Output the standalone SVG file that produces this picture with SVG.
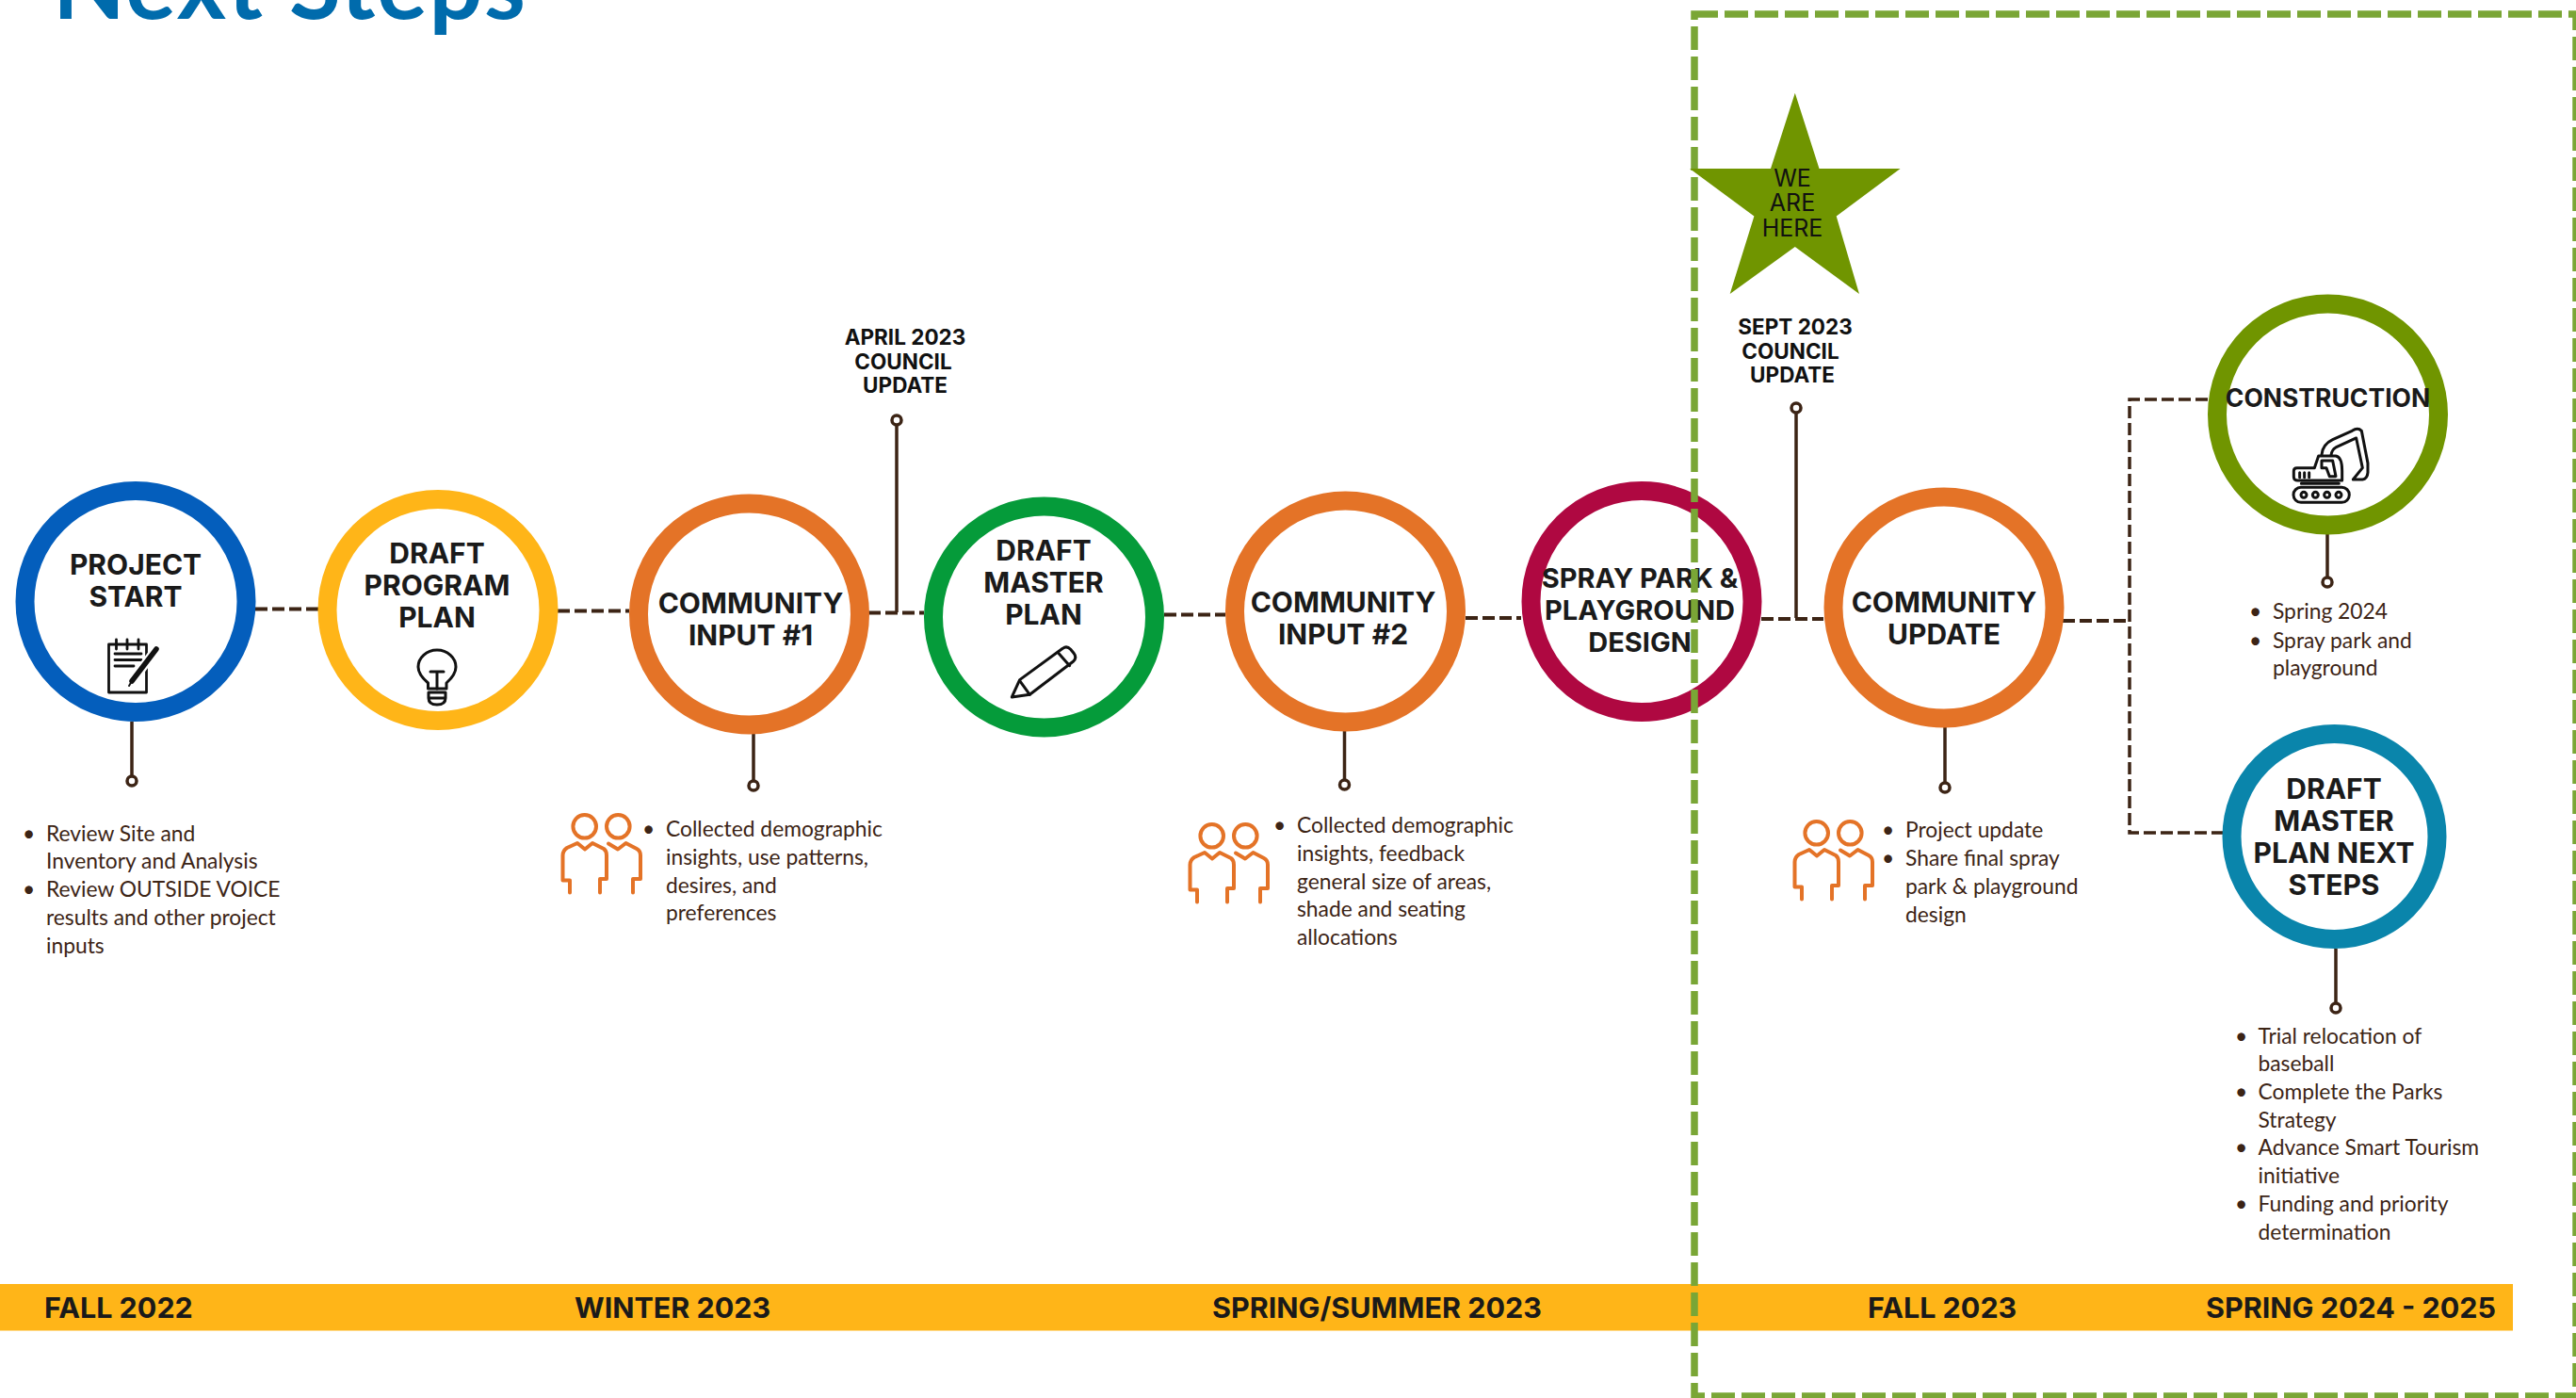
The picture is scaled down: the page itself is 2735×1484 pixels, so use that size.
<svg xmlns="http://www.w3.org/2000/svg" xmlns:xlink="http://www.w3.org/1999/xlink" width="2735" height="1484" viewBox="0 0 2735 1484">
<style>
text{font-family:"Inter","Liberation Sans",sans-serif}
.ring{fill:#fff;stroke-width:20}
.lab{font-size:30px;font-weight:700;fill:#1a1a1a;text-anchor:middle}
.pin{font-size:22.500px;font-weight:700;fill:#111;text-anchor:middle}
.bar{font-size:30.500px;font-weight:700;fill:#1a1a1a}
.b{font-family:"Lato","Liberation Sans",sans-serif;font-size:22.800px;fill:#3c2415}
.dash{fill:none;stroke:#3c2415;stroke-width:4;stroke-dasharray:13 5}
.solid{fill:none;stroke:#3c2415;stroke-width:3.500}
.dot{fill:#fff;stroke:#3c2415;stroke-width:3.500}
.ic{fill:none;stroke:#111;stroke-linejoin:round;stroke-linecap:round}
.pp{fill:none;stroke:#e47327;stroke-width:4;stroke-linejoin:round;stroke-linecap:round}
</style>
<defs>
<g id="people">
<circle cx="620.700" cy="877.300" r="12.300"/><circle cx="656.300" cy="877.300" r="12.300"/>
<path d="M605 947.500V934.500H597.500V908Q597.500 903 602 900L613 895L621 901.500L629 895L641 901Q644 903 644 908V933H637V947.500"/>
<path d="M646 895.500L656 901.500L664.500 895L676 901Q680 903 680 908V933H672V947.500"/>
</g>
</defs>
<rect width="2735" height="1484" fill="#fff"/>
<text id="title" x="56" y="20" font-size="100" font-weight="700" fill="#006bac" textLength="502" lengthAdjust="spacing" style="font-family:'Lato','Liberation Sans',sans-serif">Next Steps</text>

<g id="connectors">
<path class="dash" d="M271 646.500H338M592 648.500H668M922 650.500H981M1236 652.500H1301M1556 656H1615M1870 657H1936M2190 659H2260"/>
<path class="dash" style="stroke-width:3.500" d="M2344 424H2261V884H2360"/>
<path class="solid" d="M140 766V824M800 779V829M1427.500 776V828M2065 772V831M2471 567V613M2480 1007V1065M952 451V650M1907 438V656"/>
<circle class="dot" cx="140" cy="829" r="5"/><circle class="dot" cx="800" cy="834" r="5"/><circle class="dot" cx="1427.500" cy="833" r="5"/><circle class="dot" cx="2065" cy="836" r="5"/><circle class="dot" cx="2471" cy="618" r="5"/><circle class="dot" cx="2480" cy="1070" r="5"/><circle class="dot" cx="952" cy="446" r="5"/><circle class="dot" cx="1907" cy="433" r="5"/>
</g>

<g id="node-project-start">
<circle class="ring" cx="144" cy="638.500" r="117.500" stroke="#045ebc"/>
<text class="lab" x="144"><tspan x="144" y="610">PROJECT</tspan><tspan x="144" y="644">START</tspan></text>
<g class="ic" stroke-width="2.800">
<rect x="115.500" y="684" width="40" height="51"/>
<path d="M123.500 679V689M135 679V689M147 679V689M122 694H150M122 700.500H150M122 707H142"/>
<path d="M166 689L138 726" stroke="#fff" stroke-width="10"/><path d="M166 689L140 723" stroke-width="5.500"/><path d="M140 723L137 728" stroke-width="2"/>
</g>
</g>
<g id="node-draft-program-plan">
<circle class="ring" cx="465" cy="647.500" r="117.500" stroke="#ffb518"/>
<text class="lab"><tspan x="464" y="598">DRAFT</tspan><tspan x="464" y="632">PROGRAM</tspan><tspan x="464" y="666">PLAN</tspan></text>
<g class="ic" stroke-width="3">
<path d="M454.500 731V725Q444 716 444 708A20 18 0 1 1 484 708Q484 716 474 725V731Z"/>
<path d="M457 713H471M464 713V731M455 735H473V741Q473 748 464 748Q455 748 455 741ZM455 741H473"/>
</g>
</g>
<g id="node-community-input-1">
<circle class="ring" cx="795.500" cy="652" r="117.500" stroke="#e47327"/>
<text class="lab"><tspan x="797" y="651">COMMUNITY</tspan><tspan x="797" y="685">INPUT #1</tspan></text>
<use xlink:href="#people" href="#people" class="pp"/>
<text class="b"><tspan x="682" y="888">•</tspan><tspan x="707" y="888">Collected demographic</tspan><tspan x="707" y="918">insights, use patterns,</tspan><tspan x="707" y="948">desires, and</tspan><tspan x="707" y="977">preferences</tspan></text>
</g>
<g id="node-draft-master-plan">
<circle class="ring" cx="1108.500" cy="655" r="117.500" stroke="#059b3a"/>
<text class="lab"><tspan x="1108" y="595">DRAFT</tspan><tspan x="1108" y="629">MASTER</tspan><tspan x="1108" y="663">PLAN</tspan></text>
<g class="ic" stroke-width="9" transform="translate(960 500) scale(.3333)">
<path d="M343 720L368 665L505 565Q518 555 530 568L540 580Q552 595 538 607L400 712Z"/><path d="M368 668L400 712M490 578L527 620"/>
</g>
</g>
<g id="node-community-input-2">
<circle class="ring" cx="1428.500" cy="649" r="117.500" stroke="#e47327"/>
<text class="lab"><tspan x="1426" y="650">COMMUNITY</tspan><tspan x="1426" y="684">INPUT #2</tspan></text>
<use xlink:href="#people" href="#people" class="pp" transform="translate(666 10)"/>
<text class="b"><tspan x="1352" y="884">•</tspan><tspan x="1377" y="884">Collected demographic</tspan><tspan x="1377" y="914">insights, feedback</tspan><tspan x="1377" y="944">general size of areas,</tspan><tspan x="1377" y="973">shade and seating</tspan><tspan x="1377" y="1003">allocations</tspan></text>
</g>
<g id="node-spray-park">
<circle class="ring" cx="1743" cy="638.500" r="117.500" stroke="#af0841"/>
<text class="lab" style="font-size:29px"><tspan x="1741" y="624">SPRAY PARK &amp;</tspan><tspan x="1741" y="658">PLAYGROUND</tspan><tspan x="1741" y="692">DESIGN</tspan></text>
</g>
<g id="node-community-update">
<circle class="ring" cx="2064" cy="645" r="117.500" stroke="#e47327"/>
<text class="lab"><tspan x="2064" y="650">COMMUNITY</tspan><tspan x="2064" y="684">UPDATE</tspan></text>
<use xlink:href="#people" href="#people" class="pp" transform="translate(1308 7)"/>
<text class="b"><tspan x="1998" y="889">•</tspan><tspan x="2023" y="889">Project update</tspan><tspan x="1998" y="919">•</tspan><tspan x="2023" y="919">Share final spray</tspan><tspan x="2023" y="949">park &amp; playground</tspan><tspan x="2023" y="979">design</tspan></text>
</g>
<g id="node-construction">
<circle class="ring" cx="2471.500" cy="440" r="117.500" stroke="#709500"/>
<text class="lab" x="2471.500" y="431.500" style="font-size:26.500px">CONSTRUCTION</text>
<g class="ic" stroke-width="9" transform="translate(2300 300) scale(.3333)">
<rect x="405" y="652" width="178" height="48" rx="24"/>
<circle cx="438" cy="676" r="9"/><circle cx="475" cy="676" r="9"/><circle cx="512" cy="676" r="9"/><circle cx="549" cy="676" r="9"/>
<path d="M430 640H550M418 630Q406 630 406 618V600Q406 590 416 590H472L485 552H540Q560 555 560 600V630Z"/>
<path d="M495 567H530L540 617H520L510 590H495ZM425 605V620M440 605V620M455 605V620"/>
<path d="M495 548Q498 515 530 500L592 472Q610 460 622 472L642 575V605Q640 625 625 627H595L625 590L605 495L540 525Q527 532 525 550"/>
</g>
</g>
<g id="node-draft-master-plan-next-steps">
<circle class="ring" cx="2478.500" cy="888" r="109" stroke="#0a85ab"/>
<text class="lab"><tspan x="2478" y="848">DRAFT</tspan><tspan x="2478" y="882">MASTER</tspan><tspan x="2478" y="916">PLAN NEXT</tspan><tspan x="2478" y="950">STEPS</tspan></text>
</g>

<g id="notes">
<text class="b"><tspan x="24" y="892.500">•</tspan><tspan x="49" y="892.500">Review Site and</tspan><tspan x="49" y="922">Inventory and Analysis</tspan><tspan x="24" y="951.500">•</tspan><tspan x="49" y="951.500">Review OUTSIDE VOICE</tspan><tspan x="49" y="982">results and other project</tspan><tspan x="49" y="1011.500">inputs</tspan></text>
<text class="b"><tspan x="2388" y="657">•</tspan><tspan x="2413" y="657">Spring 2024</tspan><tspan x="2388" y="688">•</tspan><tspan x="2413" y="688">Spray park and</tspan><tspan x="2413" y="717">playground</tspan></text>
<text class="b"><tspan x="2373" y="1107.500">•</tspan><tspan x="2397.500" y="1107.500">Trial relocation of</tspan><tspan x="2397.500" y="1137">baseball</tspan><tspan x="2373" y="1167">•</tspan><tspan x="2397.500" y="1167">Complete the Parks</tspan><tspan x="2397.500" y="1197">Strategy</tspan><tspan x="2373" y="1226">•</tspan><tspan x="2397.500" y="1226">Advance Smart Tourism</tspan><tspan x="2397.500" y="1256">initiative</tspan><tspan x="2373" y="1286">•</tspan><tspan x="2397.500" y="1286">Funding and priority</tspan><tspan x="2397.500" y="1316">determination</tspan></text>
<text class="pin"><tspan x="961" y="366">APRIL 2023</tspan><tspan x="959" y="392">COUNCIL</tspan><tspan x="961" y="417">UPDATE</tspan></text>
<text class="pin"><tspan x="1906" y="355">SEPT 2023</tspan><tspan x="1901" y="381">COUNCIL</tspan><tspan x="1903" y="406">UPDATE</tspan></text>
</g>

<g id="timeline-bar">
<rect x="0" y="1363" width="2668" height="49.500" fill="#ffb518"/>
<text class="bar" x="47" y="1399">FALL 2022</text>
<text class="bar" x="610" y="1399">WINTER 2023</text>
<text class="bar" x="1287" y="1399">SPRING/SUMMER 2023</text>
<text class="bar" x="1983" y="1399">FALL 2023</text>
<text class="bar" x="2342" y="1399">SPRING 2024 - 2025</text>
</g>

<rect id="highlight-frame" x="1799" y="15" width="936" height="1467" fill="none" stroke="#7aa636" stroke-width="7.500" stroke-dasharray="25 7"/>

<g id="node-we-are-here">
<polygon points="1905.800,98.700 1931.500,179 2017.600,179 1949.700,229.600 1974,312 1905.800,262 1836.700,312 1862.400,229.600 1794,179 1880,179" fill="#709500"/>
<text text-anchor="middle" font-size="25" fill="#111"><tspan x="1903" y="198">WE</tspan><tspan x="1903" y="224">ARE</tspan><tspan x="1903" y="251">HERE</tspan></text>
</g>
</svg>
